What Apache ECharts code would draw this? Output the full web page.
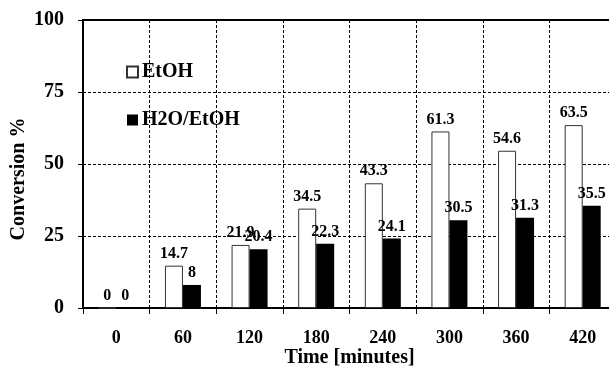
<!DOCTYPE html>
<html>
<head>
<meta charset="utf-8">
<script src="https://cdn.jsdelivr.net/npm/echarts@6/dist/echarts.min.js"></script>
<style>
  html, body { margin: 0; padding: 0; background: #fff; }
  #chart { width: 609px; height: 366px; }
</style>
</head>
<body>
<div id="chart"></div>
<script>
// values
var times = ['0', '60', '120', '180', '240', '300', '360', '420']
var etoh = [0, 14.7, 21.9, 34.5, 43.3, 61.3, 54.6, 63.5]
var waterEtoh = [0, 8, 20.4, 22.3, 24.1, 30.5, 31.3, 35.5]
var yTicks = [0, 25, 50, 75, 100]

var font = 'Liberation Serif, Times New Roman, serif'
var dash = { color: '#000', width: 1, type: [3, 2] }

var myChart = echarts.init(document.getElementById('chart'))

var labelStyle = {
  show: true,
  position: 'top',
  distance: 4,
  color: '#000',
  fontFamily: font,
  fontWeight: 'bold',
  fontSize: 16
}

myChart.setOption({
  animation: false,
  textStyle: { fontFamily: font },
  grid: {
    left: 83,
    right: -7,
    top: 20,
    bottom: 58,
    outerBoundsMode: 'none',
    containLabel: false,
    show: true,
    borderColor: '#000',
    borderWidth: 2
  },
  legend: {
    orient: 'vertical',
    left: 121,
    top: 57,
    icon: 'rect',
    itemWidth: 11,
    itemHeight: 11,
    itemGap: 28,
    textStyle: {
      color: '#000',
      fontFamily: font,
      fontWeight: 'bold',
      fontSize: 20,
      padding: [0, 0, 0, -1]
    },
    data: ['EtOH', 'H2O/EtOH']
  },
  xAxis: {
    type: 'category',
    data: times,
    name: 'Time [minutes]',
    nameLocation: 'middle',
    nameGap: 40,
    nameMoveOverlap: false,
    nameTextStyle: {
      color: '#000',
      fontFamily: font,
      fontWeight: 'bold',
      fontSize: 20
    },
    axisLine: { lineStyle: { color: '#000', width: 2 } },
    axisTick: { show: true, length: 6, lineStyle: { color: '#000', width: 1 } },
    axisLabel: {
      color: '#000',
      fontFamily: font,
      fontWeight: 'bold',
      fontSize: 18,
      margin: 21
    },
    splitLine: { show: true, lineStyle: dash }
  },
  yAxis: {
    type: 'value',
    min: yTicks[0],
    max: yTicks[yTicks.length - 1],
    interval: 25,
    name: 'Conversion %',
    nameLocation: 'middle',
    nameGap: 54,
    nameMoveOverlap: false,
    nameTextStyle: {
      color: '#000',
      fontFamily: font,
      fontWeight: 'bold',
      fontSize: 20,
      padding: [0, 30, 0, 0]
    },
    axisLine: { show: true, lineStyle: { color: '#000', width: 2 } },
    axisTick: { show: true, length: 5, lineStyle: { color: '#000', width: 1 } },
    axisLabel: {
      color: '#000',
      fontFamily: font,
      fontWeight: 'bold',
      fontSize: 20,
      margin: 19
    },
    splitLine: { show: true, lineStyle: dash }
  },
  series: [
    {
      name: 'EtOH',
      type: 'bar',
      data: etoh,
      barWidth: 18,
      barGap: '0%',
      itemStyle: { color: '#fff', borderColor: '#333', borderWidth: 1 },
      label: labelStyle
    },
    {
      name: 'H2O/EtOH',
      type: 'bar',
      data: waterEtoh,
      barWidth: 18,
      itemStyle: { color: '#000' },
      label: labelStyle
    }
  ]
})
</script>
</body>
</html>
